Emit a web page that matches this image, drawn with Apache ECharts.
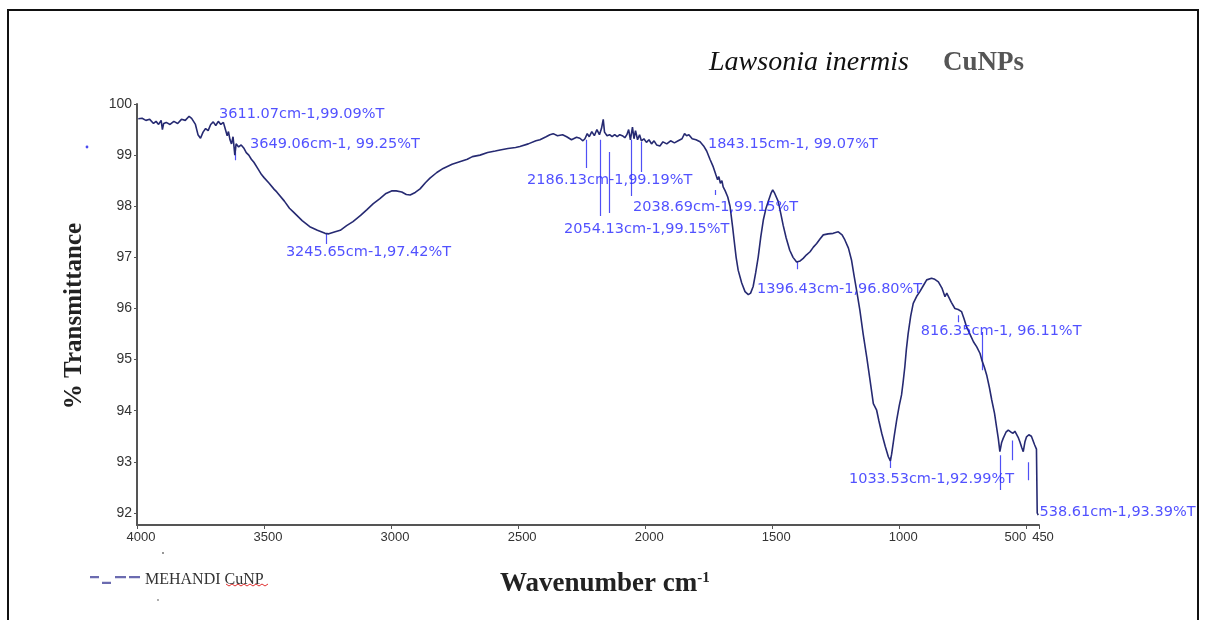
<!DOCTYPE html>
<html><head><meta charset="utf-8">
<script src="https://cdn.jsdelivr.net/npm/echarts@6/dist/echarts.min.js"></script>
<style>html,body{margin:0;padding:0;background:#fff}#c{width:1206px;height:620px}</style>
</head><body><div id="c"></div>
<script>
// Spectrum: wavenumber (cm-1) and % transmittance
const wavenumbers = [3995,3980,3965,3950,3935,3925,3915,3905,3900,3895,3885,3870,3855,3840,3825,3810,3795,3785,3770,3760,3750,3740,3730,3720,3710,3700,3690,3680,3670,3660,3652,3645,3640,3634,3628,3622,3615,3610,3600,3590,3580,3570,3560,3550,3540,3525,3510,3500,3480,3460,3450,3420,3400,3385,3350,3320,3290,3260,3245,3220,3200,3175,3150,3120,3096,3070,3044,3020,2998,2980,2958,2940,2925,2905,2886,2865,2847,2820,2795,2760,2730,2700,2680,2650,2620,2590,2571,2540,2510,2493,2460,2430,2414,2390,2375,2362,2345,2325,2309,2290,2270,2257,2245,2237,2228,2220,2210,2200,2190,2180,2172,2165,2160,2150,2140,2130,2120,2110,2100,2090,2080,2072,2065,2058,2050,2044,2038,2030,2022,2015,2005,1995,1985,1975,1965,1955,1942,1930,1915,1900,1885,1870,1855,1845,1837,1828,1815,1800,1784,1770,1758,1745,1732,1722,1715,1710,1704,1698,1693,1685,1675,1666,1656,1650,1642,1634,1620,1607,1594,1585,1575,1565,1555,1545,1535,1525,1516,1505,1498,1490,1476,1466,1457,1445,1431,1418,1404,1390,1378,1365,1351,1338,1325,1312,1299,1280,1260,1240,1225,1214,1200,1188,1178,1168,1155,1142,1128,1115,1102,1089,1080,1069,1055,1043,1035,1030,1020,1010,1000,991,985,978,972,965,955,945,930,919,905,892,873,860,846,832,820,813,807,795,781,768,755,745,735,720,708,695,689,682,675,665,656,645,636,625,617,610,604,597,591,580,571,560,552,545,539,532,525,518,512,505,499,490,480,473,467,460,457,453];
const transmittance = [99.71,99.72,99.68,99.70,99.62,99.66,99.60,99.68,99.50,99.62,99.64,99.60,99.66,99.62,99.70,99.68,99.76,99.72,99.60,99.40,99.33,99.45,99.52,99.48,99.60,99.65,99.58,99.66,99.60,99.64,99.50,99.38,99.46,99.30,99.22,99.36,99.00,99.22,99.16,99.20,99.14,99.05,99.00,98.92,98.86,98.74,98.62,98.56,98.45,98.33,98.28,98.10,97.96,97.89,97.72,97.60,97.53,97.47,97.46,97.50,97.53,97.62,97.70,97.82,97.93,98.05,98.15,98.25,98.30,98.30,98.28,98.23,98.22,98.27,98.34,98.46,98.55,98.66,98.74,98.82,98.87,98.92,98.97,99.00,99.05,99.08,99.10,99.13,99.15,99.17,99.22,99.28,99.30,99.36,99.40,99.42,99.38,99.40,99.36,99.30,99.35,99.33,99.28,99.32,99.42,99.36,99.46,99.38,99.50,99.40,99.52,99.70,99.45,99.38,99.40,99.36,99.40,99.36,99.40,99.38,99.34,99.40,99.50,99.30,99.55,99.32,99.48,99.30,99.40,99.28,99.32,99.25,99.30,99.22,99.28,99.20,99.18,99.26,99.22,99.28,99.24,99.28,99.32,99.42,99.38,99.40,99.32,99.30,99.26,99.18,99.08,98.92,98.77,98.62,98.52,98.58,98.45,98.50,98.38,98.30,98.18,98.00,97.60,97.34,97.00,96.75,96.50,96.33,96.27,96.30,96.43,96.70,97.01,97.40,97.73,97.95,98.09,98.25,98.32,98.25,98.09,97.85,97.63,97.38,97.14,97.00,96.91,96.93,96.98,97.05,97.11,97.20,97.27,97.36,97.44,97.46,97.47,97.50,97.44,97.34,97.18,96.95,96.65,96.36,95.97,95.50,95.05,94.60,94.14,94.01,93.80,93.56,93.30,93.10,93.02,93.15,93.50,93.82,94.10,94.31,94.55,94.86,95.20,95.51,95.85,96.10,96.25,96.33,96.45,96.56,96.59,96.57,96.52,96.40,96.23,96.30,96.33,96.12,96.00,95.98,95.94,95.80,95.64,95.48,95.35,95.25,95.22,95.12,94.99,94.85,94.70,94.45,94.21,93.95,93.68,93.45,93.20,93.38,93.46,93.58,93.62,93.58,93.56,93.60,93.59,93.48,93.39,93.28,93.20,93.40,93.49,93.53,93.50,93.49,93.33,93.25,92.00,91.96];

// Peak annotations (text anchor = left-middle of label)
const peakLabels = ['3611.07cm-1,99.09%T','3649.06cm-1, 99.25%T','3245.65cm-1,97.42%T','2186.13cm-1,99.19%T','2054.13cm-1,99.15%T','2038.69cm-1,99.15%T','1843.15cm-1, 99.07%T','1396.43cm-1,96.80%T','816.35cm-1, 96.11%T','1033.53cm-1,92.99%T','538.61cm-1,93.39%T'];
const labelW = [3681,3559,3418,2469,2323,2052,1757,1564,919,1202,452];
const labelT = [99.80,99.22,97.10,98.51,97.55,97.98,99.22,96.38,95.56,92.66,92.02];

// Leader lines
const leaderW = [3614,3256,2233,2178,2142,2056,2017,1725,1403,769,675,1036,604,557,494];
const leaderTop = [99.16,97.46,99.30,99.30,99.06,99.30,99.26,98.32,96.91,95.87,95.54,93.09,93.13,93.42,92.99];
const leaderBottom = [98.90,97.26,98.75,97.81,97.87,98.20,98.67,98.22,96.77,95.73,94.79,92.88,92.45,93.03,92.64];

const xTicks = [4000,3500,3000,2500,2000,1500,1000,500,450];
const yTicks = [92,93,94,95,96,97,98,99,100];
const seriesName = 'MEHANDI CuNP';

const spectrum = wavenumbers.map((w,i)=>[w,transmittance[i]]);
const labels = peakLabels.map((t,i)=>({name:t,value:[labelW[i],labelT[i]]}));
const leaders = leaderW.map((w,i)=>({coords:[[w,leaderTop[i]],[w,leaderBottom[i]]]}));

const chart = echarts.init(document.getElementById('c'), null, {renderer:'canvas'});
chart.setOption({
  animation:false,
  backgroundColor:'#fff',
  title:{
    text:'{i|Lawsonia inermis}{n|CuNPs}',
    left:704, top:44,
    textStyle:{fontWeight:'normal',rich:{
      i:{fontFamily:'Liberation Serif',fontStyle:'italic',fontWeight:'normal',fontSize:28,color:'#111'},
      n:{fontFamily:'Liberation Serif',fontWeight:'bold',fontSize:27,color:'#555',padding:[0,0,0,34]}
    }}
  },
  legend:{
    left:85, top:567,
    itemWidth:50, itemHeight:8, itemGap:10,
    symbolKeepAspect:false,
    data:[{name:seriesName,icon:'path://M0,1H9V3H0Z M12,6H21V8H12Z M25,1H36V3H25Z M39,1H50V3H39Z',itemStyle:{color:'#6b6bb0'}}],
    textStyle:{fontFamily:'Liberation Serif',fontSize:16,color:'#333'}
  },
  grid:{left:137,right:167,top:104,bottom:95},
  xAxis:{
    type:'value', min:450, max:4000, inverse:true,
    axisLine:{show:true,lineStyle:{color:'#555',width:2}},
    axisTick:{show:true,length:4,lineStyle:{color:'#555'},customValues:xTicks},
    splitLine:{show:false},
    axisLabel:{
      customValues:xTicks, margin:6,
      fontFamily:'Liberation Sans', fontSize:13, color:'#333',
      formatter:function(v){ return v===500 ? '{l|500}' : '{r|'+v+'}'; },
      rich:{
        l:{fontFamily:'Liberation Sans',fontSize:13,color:'#333',padding:[0,22,0,0]},
        r:{fontFamily:'Liberation Sans',fontSize:13,color:'#333',padding:[0,0,0,8]}
      }
    }
  },
  yAxis:{
    type:'value', min:91.765, max:100,
    axisLine:{show:true,lineStyle:{color:'#555',width:2}},
    axisTick:{show:true,length:3,lineStyle:{color:'#555'},customValues:yTicks},
    splitLine:{show:false},
    axisLabel:{customValues:yTicks, margin:5, fontFamily:'Liberation Sans', fontSize:14, color:'#333'}
  },
  series:[
    {
      name:seriesName, type:'line', data:spectrum, showSymbol:false, symbol:'none',
      lineStyle:{color:'#262a72',width:1.6}, itemStyle:{color:'#262a72'}, z:3
    },
    {
      name:'leaders', type:'lines', coordinateSystem:'cartesian2d', data:leaders,
      lineStyle:{color:'#5050f5',width:1.2,opacity:1}, z:2, silent:true
    },
    {
      name:'peaks', type:'scatter', data:labels, symbolSize:0, z:4, silent:true, clip:false,
      label:{show:true, position:[1,0], align:'left', verticalAlign:'middle', formatter:'{b}',
        fontFamily:'DejaVu Sans', fontSize:14.5, color:'#2626ff'}
    }
  ],
  graphic:[
    {type:'rect', shape:{x:8,y:10,width:1190,height:640}, style:{fill:'none',stroke:'#111',lineWidth:2}, silent:true},
    {type:'text', x:75, y:316, rotation:Math.PI/2,
      style:{text:'% Transmittance', fontFamily:'Liberation Serif', fontWeight:'bold', fontSize:25, fill:'#222', textAlign:'center', textVerticalAlign:'middle'}},
    {type:'text', x:500, y:571,
      style:{text:'{a|Wavenumber cm}{s|-1}', fill:'#222',
        rich:{a:{fontFamily:'Liberation Serif',fontWeight:'bold',fontSize:27,fill:'#222'},
              s:{fontFamily:'Liberation Serif',fontWeight:'bold',fontSize:15,fill:'#222',verticalAlign:'top'}}}},
    {type:'polyline', shape:{points:[[226,584],[229,586],[232,584],[235,586],[238,584],[241,586],[244,584],[247,586],[250,584],[253,586],[256,584],[259,586],[262,584],[265,586],[268,584]]}, style:{stroke:'#e03030',lineWidth:1,fill:'none'}},
    {type:'circle', shape:{cx:87,cy:147,r:1.4}, style:{fill:'#4a4af0'}},
    {type:'circle', shape:{cx:163,cy:553,r:0.9}, style:{fill:'#666'}},
    {type:'circle', shape:{cx:158,cy:600,r:0.9}, style:{fill:'#888'}}
  ]
});
</script></body></html>
